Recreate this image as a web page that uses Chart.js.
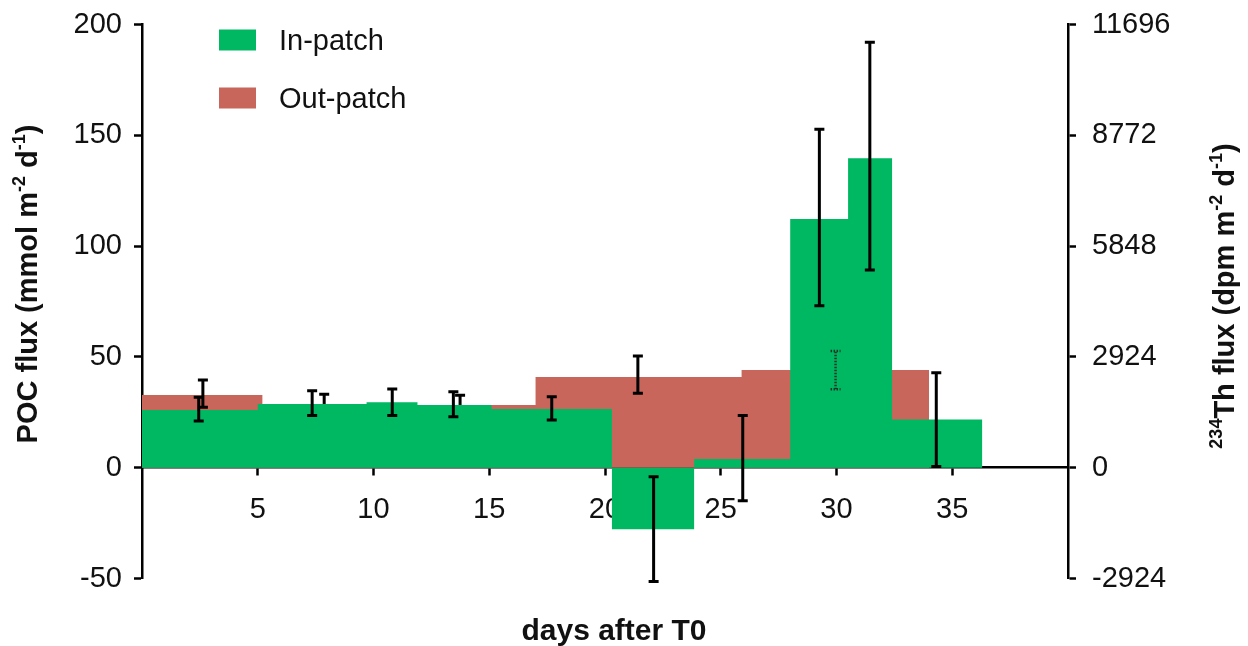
<!DOCTYPE html>
<html>
<head>
<meta charset="utf-8">
<script src="https://cdn.jsdelivr.net/npm/chart.js@4.4.1/dist/chart.umd.min.js"></script>
<style>
  html, body { margin: 0; padding: 0; background: #fff; }
  #wrap { width: 1248px; height: 646px; }
</style>
</head>
<body>
<div id="wrap"><canvas id="flux"></canvas></div>
<script>
// in-patch sampling intervals (days after T0) and POC flux per interval
const inEdges = [0, 5, 9.7, 11.9, 15.1, 20.3, 23.85, 28, 30.5, 32.4, 36.3]
const inFlux = [26.0, 28.7, 29.5, 28.3, 26.5, -27.8, 3.9, 112.2, 139.6, 21.8]

// out-patch intervals and flux
const outEdges = [0, 5.2, 17, 25.9, 34]
const outFlux = [32.8, 28.3, 40.9, 44.1]

// error bars (day, low, high)
const inErrDay = [2.45, 7.35, 10.81, 13.45, 17.7, 22.1, 25.95, 29.26, 31.44, 34.31]
const inErrLow = [21.1, 23.5, 23.5, 23.0, 21.5, -51.4, -14.9, 73.1, 89.2, 0.5]
const inErrHigh = [31.8, 34.7, 35.5, 34.3, 32.0, -4.1, 23.5, 152.7, 192.0, 42.9]

const outErrDay = [2.63, 7.87, 13.74, 21.42, 29.96]
const outErrLow = [27.3, 23.5, 23.9, 33.6, 35.4]
const outErrHigh = [39.6, 33.1, 32.7, 50.4, 52.7]
const outErrDotted = [false, false, false, false, true]

// axis ticks
const dayTicks = [5, 10, 15, 20, 25, 30, 35]
const pocTicks = [-50, 0, 50, 100, 150, 200]
const thTicks = [-2924, 0, 2924, 5848, 8772, 11696]

const GREEN = '#00b862'
const RED = '#c9665b'
const FONT = "'Liberation Sans', Arial, sans-serif"

// step outline: each edge carries the value of the interval that starts there
function steps(edges, vals) {
  return edges.map((x, i) => ({ x: x, y: vals[Math.min(i, vals.length - 1)] }))
}

function drawErr(ctx, chart, x, lo, hi, dotted) {
  const xs = chart.scales.x, ys = chart.scales.y
  const px = xs.getPixelForValue(x)
  const a = ys.getPixelForValue(lo), b = ys.getPixelForValue(hi)
  ctx.save()
  ctx.strokeStyle = dotted ? '#1d3524' : '#000'
  ctx.lineWidth = dotted ? 2.5 : 3
  if (dotted) ctx.setLineDash([1.5, 1.5])
  ctx.beginPath()
  ctx.moveTo(px, a); ctx.lineTo(px, b)
  ctx.moveTo(px - 5, a); ctx.lineTo(px + 5, a)
  ctx.moveTo(px - 5, b); ctx.lineTo(px + 5, b)
  ctx.stroke()
  ctx.restore()
}

const errorBars = {
  id: 'errorBars',
  afterDatasetDraw(chart, args) {
    const ctx = chart.ctx
    if (args.index === 1) {
      outErrDay.forEach((d, i) => {
        if (!outErrDotted[i]) drawErr(ctx, chart, d, outErrLow[i], outErrHigh[i], false)
      })
    } else if (args.index === 0) {
      inErrDay.forEach((d, i) => drawErr(ctx, chart, d, inErrLow[i], inErrHigh[i], false))
    }
  },
  afterDatasetsDraw(chart) {
    outErrDay.forEach((d, i) => {
      if (outErrDotted[i]) drawErr(chart.ctx, chart, d, outErrLow[i], outErrHigh[i], true)
    })
  }
}

// text pieces with raised superscripts, drawn centred at (cx, cy)
function richText(ctx, parts, cx, cy, rot) {
  const big = 'bold 29px ' + FONT, small = 'bold 18px ' + FONT
  let w = 0
  parts.forEach(p => { ctx.font = p.sup ? small : big; w += ctx.measureText(p.t).width })
  ctx.save()
  ctx.translate(cx, cy)
  ctx.rotate(rot)
  ctx.fillStyle = '#111'
  ctx.textBaseline = 'middle'
  ctx.textAlign = 'left'
  let x = -w / 2
  parts.forEach(p => {
    ctx.font = p.sup ? small : big
    ctx.fillText(p.t, x, p.sup ? -9 : 0)
    x += ctx.measureText(p.t).width
  })
  ctx.restore()
}

const decorations = {
  id: 'decorations',
  afterDraw(chart) {
    const ctx = chart.ctx
    const area = chart.chartArea
    richText(ctx, [{ t: 'POC flux (mmol m' }, { t: '-2', sup: true }, { t: ' d' }, { t: '-1', sup: true }, { t: ')' }],
      29, 284, -Math.PI / 2)
    richText(ctx, [{ t: '234', sup: true }, { t: 'Th flux (dpm m' }, { t: '-2', sup: true }, { t: ' d' }, { t: '-1', sup: true }, { t: ')' }],
      1226, 296, -Math.PI / 2)

    ctx.save()
    ctx.fillStyle = '#111'
    ctx.font = 'bold 30px ' + FONT
    ctx.textAlign = 'center'
    ctx.textBaseline = 'alphabetic'
    ctx.fillText('days after T0', 614, 640)

    // legend
    ctx.font = '29px ' + FONT
    ctx.textAlign = 'left'
    ctx.textBaseline = 'middle'
    chart.data.datasets.forEach((ds, i) => {
      const y = area.top + 5 + i * 58
      ctx.fillStyle = ds.backgroundColor
      ctx.fillRect(area.left + 77, y, 37, 21)
      ctx.fillStyle = '#111'
      ctx.fillText(ds.label, area.left + 137, y + 12)
    })
    ctx.restore()
  }
}

const tickFont = { family: FONT, size: 29 }

// y axes: fixed widths, and no extra room reserved for the end labels
function fixAxis(width) {
  return s => { s.width = width; s.paddingTop = 0; s.paddingBottom = 0 }
}

new Chart(document.getElementById('flux'), {
  type: 'line',
  data: {
    datasets: [
      {
        label: 'In-patch',
        data: steps(inEdges, inFlux),
        stepped: 'before',
        fill: 'origin',
        backgroundColor: GREEN,
        borderWidth: 0,
        pointRadius: 0
      },
      {
        label: 'Out-patch',
        data: steps(outEdges, outFlux),
        stepped: 'before',
        fill: 'origin',
        backgroundColor: RED,
        borderWidth: 0,
        pointRadius: 0
      }
    ]
  },
  options: {
    responsive: true,
    maintainAspectRatio: false,
    animation: false,
    layout: { padding: { top: 24.5, bottom: 67.5, left: 0, right: 0 } },
    plugins: { legend: { display: false }, tooltip: { enabled: false } },
    scales: {
      x: {
        type: 'linear',
        min: 0,
        max: 40,
        position: { y: 0 },
        afterBuildTicks: s => { s.ticks = dayTicks.map(v => ({ value: v })) },
        ticks: { font: tickFont, color: '#111', padding: 18, maxRotation: 0, autoSkip: false },
        grid: { drawOnChartArea: false, tickLength: 7, tickWidth: 2.5, tickColor: '#000' },
        border: { color: '#000', width: 2.5 }
      },
      y: {
        position: 'left',
        min: -50,
        max: 200,
        afterBuildTicks: s => { s.ticks = pocTicks.map(v => ({ value: v })) },
        afterFit: fixAxis(142),
        ticks: { font: tickFont, color: '#111', padding: 12 },
        grid: { drawOnChartArea: false, tickLength: 8, tickWidth: 2.5, tickColor: '#000' },
        border: { color: '#000', width: 2.5 }
      },
      y2: {
        position: 'right',
        min: -2924,
        max: 11696,
        afterBuildTicks: s => { s.ticks = thTicks.map(v => ({ value: v })) },
        afterFit: fixAxis(180),
        ticks: { font: tickFont, color: '#111', padding: 16, callback: v => String(v) },
        grid: { drawOnChartArea: false, tickLength: 8, tickWidth: 2.5, tickColor: '#000' },
        border: { color: '#000', width: 2.5 }
      }
    }
  },
  plugins: [errorBars, decorations]
})
</script>
</body>
</html>
